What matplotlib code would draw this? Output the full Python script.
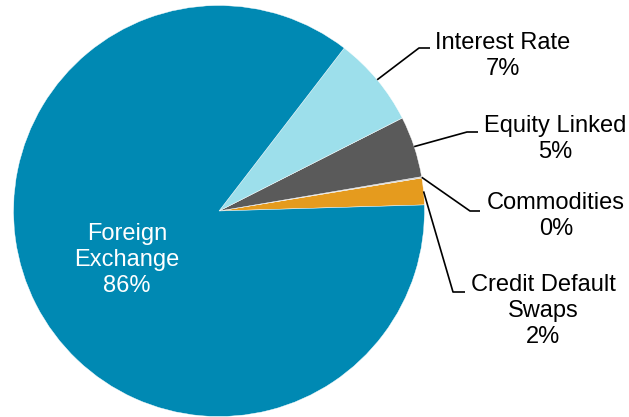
import numpy as np
import matplotlib
matplotlib.use("Agg")
import matplotlib.pyplot as plt

plt.rcParams['font.family'] = ['Liberation Sans', 'DejaVu Sans']

# data (counterclockwise from start angle)
categories = ['Credit Default\nSwaps', 'Commodities', 'Equity Linked', 'Interest Rate', 'Foreign\nExchange']
shares = [2.1, 0.1, 4.8, 7.1, 85.9]
colors = ['#e59b1e', '#c4c4c4', '#5a5a5a', '#9ddfeb', '#0089b3']

W, H = 629, 417
fig = plt.figure(figsize=(W / 100, H / 100), dpi=100)
ax = fig.add_axes([0, 0, 1, 1])

cx, cy, r = 219, H - 211, 205.5
start = 1.7
wedges, _ = ax.pie(shares, colors=colors, startangle=start, counterclock=True,
                   center=(cx, cy), radius=r, frame=True,
                   wedgeprops=dict(edgecolor='white', linewidth=0.3))
ax.set_xlim(0, W)
ax.set_ylim(0, H)
ax.set_aspect('equal')
ax.axis('off')

# label layout (image pixel coords: elbow x, elbow y, line end x, text x, text y)
layout = {
    'Interest Rate': (419, 48, 430, 503, 56),
    'Equity Linked': (467, 132, 478, 555, 139),
    'Commodities': (470, 211, 480, 556, 216),
    'Credit Default\nSwaps': (453, 292, 465, 543, 311),
}

for w, name, val in zip(wedges, categories, shares):
    label = f"{name}\n{val:.0f}%"
    if name in layout:
        ex, ey, lx, tx, ty = layout[name]
        mid = np.deg2rad((w.theta1 + w.theta2) / 2)
        sx, sy = cx + r * np.cos(mid), cy + r * np.sin(mid)
        ax.plot([sx, ex, lx], [sy, H - ey, H - ey], color='black', lw=1.2,
                solid_capstyle='butt')
        ax.text(tx, H - ty, label, ha='center', va='center', fontsize=17,
                linespacing=1.25, color='black')
    else:
        ax.text(127, H - 260, label, ha='center', va='center', fontsize=17,
                linespacing=1.25, color='white')

fig.savefig('out.png', dpi=100)
